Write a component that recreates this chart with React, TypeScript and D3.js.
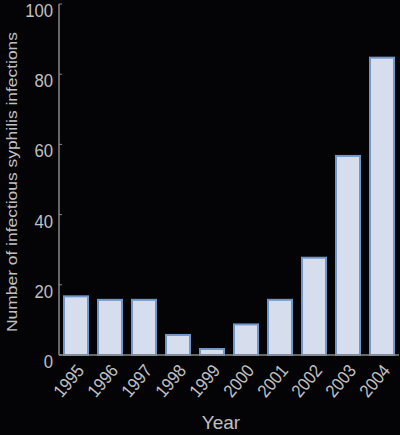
import React from 'react';
import { scaleBand, scaleLinear } from 'd3';

const years = ['1995', '1996', '1997', '1998', '1999', '2000', '2001', '2002', '2003', '2004'];
const infections = [17, 16, 16, 6, 2, 9, 16, 28, 57, 85];
const yTicks = [0, 20, 40, 60, 80, 100];

const width = 400;
const height = 435;
const margin = { top: 4, right: 1, bottom: 80, left: 59 };

export default function App() {
  const x = scaleBand<string>()
    .domain(years)
    .range([margin.left, width - margin.right])
    .paddingInner(8 / 34)
    .paddingOuter(4 / 34);

  const y = scaleLinear()
    .domain([0, 100])
    .range([height - margin.bottom, margin.top]);

  const font = 'Liberation Sans, Arial, sans-serif';
  const textColor = '#c0c0c0';

  return (
    <svg
      width={width}
      height={height}
      style={{ position: 'fixed', left: 0, top: 0, background: '#040306' }}
      fontFamily={font}
    >
      <rect width={width} height={height} fill="#040306" />

      {/* bars */}
      {years.map((yr, i) => (
        <rect
          key={yr}
          x={x(yr)! + 1}
          y={y(infections[i]) + 1}
          width={x.bandwidth() - 2}
          height={y(0) - y(infections[i]) - 1}
          fill="#d6deee"
          stroke="#7196c8"
          strokeWidth={2}
        />
      ))}

      {/* y axis */}
      <line x1={margin.left} x2={margin.left} y1={y(100)} y2={y(0)} stroke="#8a8a8a" strokeWidth={1.5} />
      {yTicks.map(t => (
        <g key={t} transform={`translate(${margin.left},${y(t)})`}>
          <line x1={0} x2={3} stroke="#8a8a8a" strokeWidth={1} />
          <text
            transform="translate(-6,13) scale(0.88,1)"
            textAnchor="end"
            fontSize={19}
            fill={textColor}
          >
            {t}
          </text>
        </g>
      ))}

      {/* x axis */}
      <line x1={margin.left} x2={width - margin.right} y1={y(0)} y2={y(0)} stroke="#8a8a8a" strokeWidth={1.5} />
      {years.map(yr => (
        <text
          key={yr}
          transform={`translate(${x(yr)! + x.bandwidth() / 2 + 9},${y(0) + 16}) rotate(-50) scale(0.9,1)`}
          textAnchor="end"
          fontSize={18}
          fill={textColor}
        >
          {yr}
        </text>
      ))}

      <text x={221} y={429} textAnchor="middle" fontSize={19} fill={textColor}>
        Year
      </text>

      <text
        transform={`translate(17,182) rotate(-90)`}
        textAnchor="middle"
        fontSize={15}
        textLength={300}
        lengthAdjust="spacingAndGlyphs"
        fill={textColor}
      >
        Number of infectious syphilis infections
      </text>
    </svg>
  );
}
